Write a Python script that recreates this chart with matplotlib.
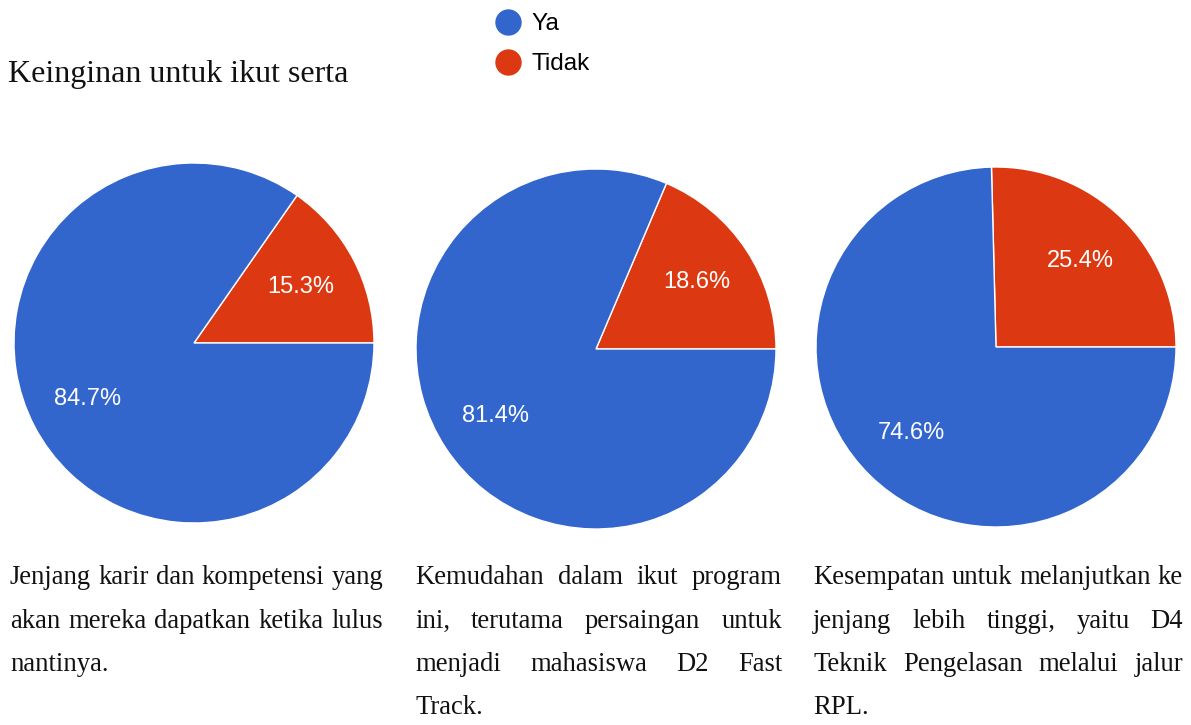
import matplotlib
matplotlib.use("Agg")
import matplotlib.pyplot as plt
from matplotlib.lines import Line2D

W, H = 1191, 725
DPI = 100

title = "Keinginan untuk ikut serta"
categories = ["Tidak", "Ya"]
colors = {"Ya": "#3366CC", "Tidak": "#DC3912"}
pie_values = [
    [15.3, 84.7],
    [18.6, 81.4],
    [25.4, 74.6],
]
captions = [
    ["Jenjang karir dan kompetensi yang",
     "akan mereka dapatkan ketika lulus",
     "nantinya."],
    ["Kemudahan dalam ikut program",
     "ini, terutama persaingan untuk",
     "menjadi mahasiswa D2 Fast",
     "Track."],
    ["Kesempatan untuk melanjutkan ke",
     "jenjang lebih tinggi, yaitu D4",
     "Teknik Pengelasan melalui jalur",
     "RPL."],
]

# layout (pixels)
pie_centers = [(194, 343), (596, 349), (996, 347)]
pie_radius = 180
cap_cols = [(10, 383), (415, 782), (813, 1183)]
cap_base0 = 584
cap_lh = 43.5
SERIF = "Liberation Serif"
SANS = "Liberation Sans"

fig = plt.figure(figsize=(W / DPI, H / DPI), dpi=DPI)

def px(x, y):
    return x / W, 1 - y / H

for vals, (cx, cy) in zip(pie_values, pie_centers):
    ax = fig.add_axes([(cx - pie_radius) / W, (H - cy - pie_radius) / H,
                       2 * pie_radius / W, 2 * pie_radius / H])
    wedges, texts, autotexts = ax.pie(
        vals, colors=[colors[c] for c in categories], startangle=0,
        counterclock=True, autopct="%1.1f%%", pctdistance=0.67,
        wedgeprops=dict(edgecolor="white", linewidth=1),
        textprops=dict(color="white", fontsize=17, family=SANS))
    ax.set_xlim(-1, 1)
    ax.set_ylim(-1, 1)
    ax.set_aspect("equal")
    ax.axis("off")

fig.text(*px(8, 82), title, family=SERIF, fontsize=23, color="#111111",
         ha="left", va="baseline")

handles = [Line2D([], [], marker="o", linestyle="none", markersize=18,
                  markerfacecolor=colors[c], markeredgecolor=colors[c])
           for c in ["Ya", "Tidak"]]
fig.legend(handles, ["Ya", "Tidak"], loc="upper left",
           bbox_to_anchor=px(496, 13), frameon=False,
           prop=dict(family=SANS, size=17.5), handletextpad=0.45,
           labelspacing=0.75, handlelength=1.0, borderaxespad=0,
           borderpad=0)

fig.canvas.draw()
renderer = fig.canvas.get_renderer()
fs_cap = 19.2
for lines, (x0, x1) in zip(captions, cap_cols):
    for i, line in enumerate(lines):
        yb = cap_base0 + i * cap_lh
        words = line.split(" ")
        last = (i == len(lines) - 1)
        if last or len(words) == 1:
            fig.text(*px(x0, yb), line, family=SERIF, fontsize=fs_cap,
                     color="#111111", ha="left", va="baseline")
            continue
        ts = [fig.text(0, 0, w, family=SERIF, fontsize=fs_cap,
                       color="#111111", ha="left", va="baseline")
              for w in words]
        widths = [t.get_window_extent(renderer).width for t in ts]
        gap = (x1 - x0 - sum(widths)) / (len(words) - 1)
        x = x0
        for t, wdt in zip(ts, widths):
            t.set_position(px(x, yb))
            x += wdt + gap

fig.savefig("out.png", dpi=DPI)
